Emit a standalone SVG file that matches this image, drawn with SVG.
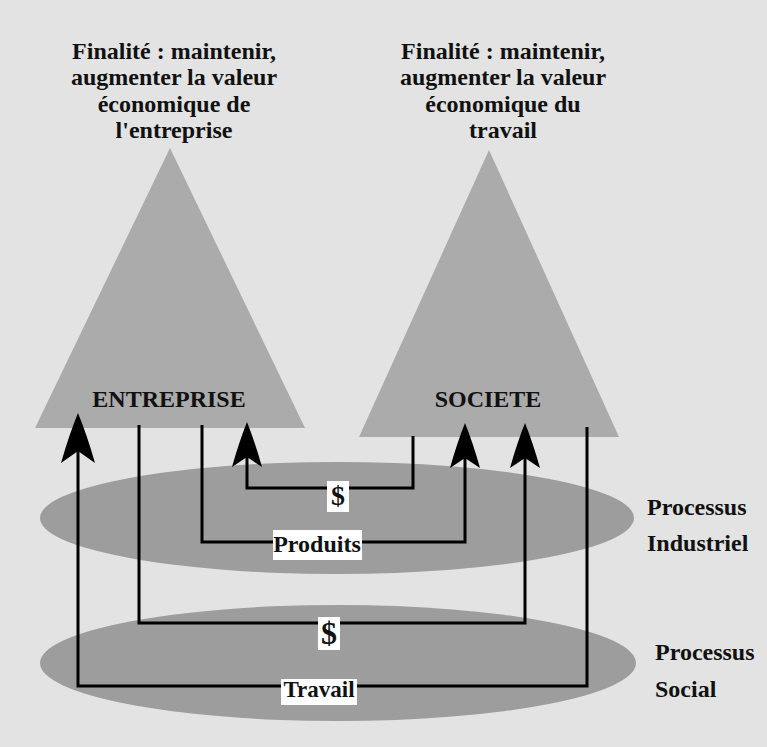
<svg xmlns="http://www.w3.org/2000/svg" width="767" height="747" viewBox="0 0 767 747">
<defs>
<style>
.t{font-family:"Liberation Serif","Times New Roman",serif;font-weight:bold;fill:#111;}
.f{font-size:24px;text-anchor:middle;}
.side{font-size:24px;}
.tri{fill:#ababab;}
.ell{fill:#9d9d9d;}
.wire{fill:none;stroke:#000;stroke-width:3;}
.box{fill:#fff;}
</style>
<marker id="arrowBig" markerUnits="userSpaceOnUse" markerWidth="50" markerHeight="34" refX="12" refY="17" orient="auto" overflow="visible">
<path d="M0,0 Q28,8 50,17 Q28,26 0,34 L12,17 Z" fill="#000"/>
</marker>
<marker id="arrow" markerUnits="userSpaceOnUse" markerWidth="45" markerHeight="30" refX="10" refY="15" orient="auto" overflow="visible">
<path d="M0,0 Q25,7 45,15 Q25,23 0,30 L10,15 Z" fill="#000"/>
</marker>
</defs>
<rect x="0" y="0" width="767" height="747" fill="#e3e3e3"/>

<g id="entreprise">
<polygon class="tri" points="170,148 305,428 35,428"/>
<text class="t f" x="169" y="407">ENTREPRISE</text>
<text class="t f" x="174" y="59">Finalité : maintenir,</text>
<text class="t f" x="174" y="85">augmenter la valeur</text>
<text class="t f" x="174" y="112">économique de</text>
<text class="t f" x="174" y="138">l'entreprise</text>
</g>

<g id="societe">
<polygon class="tri" points="489,150 619,437 359,437"/>
<text class="t f" x="488" y="407">SOCIETE</text>
<text class="t f" x="503" y="59">Finalité : maintenir,</text>
<text class="t f" x="503" y="85">augmenter la valeur</text>
<text class="t f" x="503" y="112">économique du</text>
<text class="t f" x="503" y="138">travail</text>
</g>

<g id="processus-industriel">
<ellipse class="ell" cx="337" cy="518" rx="297" ry="56"/>
<text class="t side" x="647" y="515">Processus</text>
<text class="t side" x="647" y="551">Industriel</text>
</g>

<g id="processus-social">
<ellipse class="ell" cx="338" cy="663" rx="298" ry="58"/>
<text class="t side" x="655" y="660">Processus</text>
<text class="t side" x="655" y="697">Social</text>
</g>

<g id="connectors">
<path class="wire" d="M587,427 V686 H78 V451" marker-end="url(#arrowBig)"/>
<path class="wire" d="M139,425 V623 H525 V458" marker-end="url(#arrow)"/>
<path class="wire" d="M202,425 V542 H465 V458" marker-end="url(#arrow)"/>
<path class="wire" d="M413,436 V488 H247 V457" marker-end="url(#arrow)"/>
<rect class="box" x="327" y="481" width="22" height="31"/>
<text class="t" x="338" y="505" font-size="28" text-anchor="middle">$</text>
<rect class="box" x="273" y="530" width="89" height="30"/>
<text class="t" x="317" y="552" font-size="24" text-anchor="middle">Produits</text>
<rect class="box" x="318" y="617" width="22" height="33"/>
<text class="t" x="329" y="644" font-size="32" text-anchor="middle">$</text>
<rect class="box" x="281" y="679" width="76" height="26"/>
<text class="t" x="319" y="697" font-size="23" text-anchor="middle">Travail</text>
</g>
</svg>
